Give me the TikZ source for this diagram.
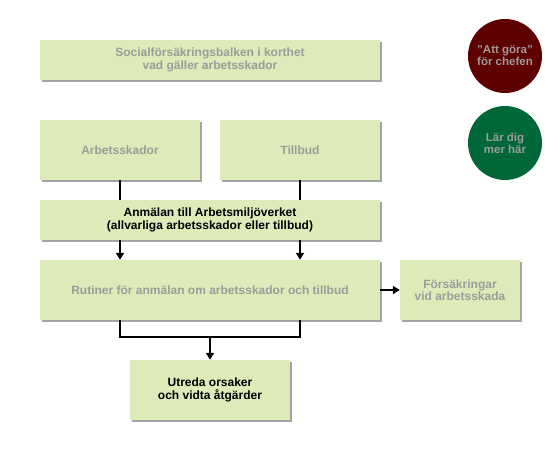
\documentclass[tikz,border=0pt]{standalone}
\usepackage{fontspec}
\setmainfont{Liberation Sans}
\usetikzlibrary{shadows,arrows.meta}
\definecolor{boxgreen}{HTML}{DDEBB8}
\definecolor{textgrey}{HTML}{9C9C9C}
\definecolor{darkred}{HTML}{5E0000}
\definecolor{darkgreen}{HTML}{006837}
\tikzset{
  infobox/.style={fill=boxgreen, text=textgrey, align=center, inner sep=0pt,
    font=\fontsize{12}{12.5}\selectfont\bfseries,
    drop shadow={shadow xshift=2pt, shadow yshift=-2pt, fill=black!45, opacity=0.8}},
  darktext/.style={text=black},
  bigcircle/.style={circle, minimum size=74pt, inner sep=0pt, align=center,
    text=textgrey, font=\fontsize{11.5}{12}\selectfont\bfseries},
  link/.style={line width=1.6pt, -{Triangle[length=7pt,width=8pt]}},
  plainlink/.style={line width=1.6pt}
}
\begin{document}
\begin{tikzpicture}[x=1pt,y=-1pt]
  \useasboundingbox (0,0) rectangle (560,460);
  % boxes
  \node[infobox, minimum width=340pt, minimum height=40pt] (balk) at (210,60)
    {Socialförsäkringsbalken i korthet\\vad gäller arbetsskador};
  \node[infobox, minimum width=160pt, minimum height=60pt] (skador) at (120,150) {Arbetsskador};
  \node[infobox, minimum width=160pt, minimum height=60pt] (tillbud) at (300,150) {Tillbud};
  \node[infobox, darktext, minimum width=340pt, minimum height=40pt] (anm) at (210,220)
    {Anmälan till Arbetsmiljöverket\\(allvarliga arbetsskador eller tillbud)};
  \node[infobox, minimum width=340pt, minimum height=60pt] (rutiner) at (210,290)
    {Rutiner för anmälan om arbetsskador och tillbud};
  \node[infobox, minimum width=120pt, minimum height=60pt] (fors) at (460,290)
    {Försäkringar\\vid arbetsskada};
  \node[infobox, darktext, minimum width=160pt, minimum height=60pt] (utreda) at (210,390)
    {Utreda orsaker\\och vidta åtgärder};
  % circles
  \node[bigcircle, fill=darkred] (gora) at (505,56) {"Att göra"\\för chefen};
  \node[bigcircle, fill=darkgreen] (lar) at (505,143) {Lär dig\\mer här};
  % connectors
  \draw[plainlink] (skador.south) -- (skador.south |- anm.north);
  \draw[plainlink] (tillbud.south) -- (tillbud.south |- anm.north);
  \draw[link] (anm.south -| skador.south) -- (rutiner.north -| skador.south);
  \draw[link] (anm.south -| tillbud.south) -- (rutiner.north -| tillbud.south);
  \draw[link] (rutiner.east) -- (fors.west);
  \coordinate (join) at (210,337);
  \draw[plainlink] (rutiner.south -| skador.south) |- (join) -| (rutiner.south -| tillbud.south);
  \draw[link] (join) -- (utreda.north);
\end{tikzpicture}
\end{document}
